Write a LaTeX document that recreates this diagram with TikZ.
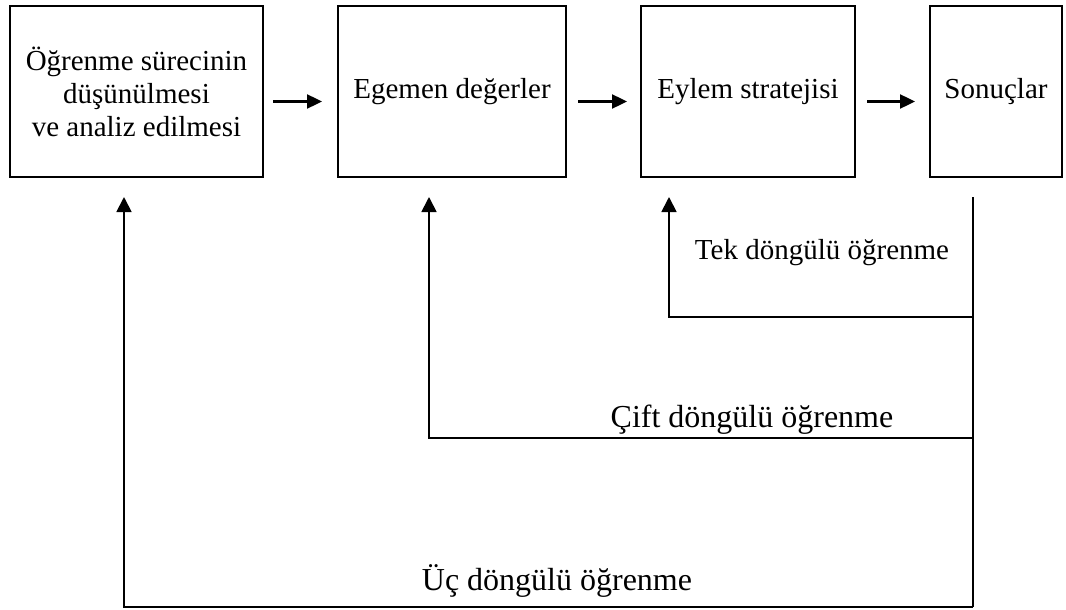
\documentclass[tikz,border=0pt]{standalone}
\usepackage{fontspec}
\setmainfont{Liberation Serif}
\usetikzlibrary{positioning,arrows.meta}

\begin{document}
\begin{tikzpicture}[
  x=1pt, y=-1pt,
  node distance=75pt,
  font=\fontsize{29}{33}\selectfont,
  box/.style={draw, line width=1.8pt, align=center, inner sep=0pt, outer sep=0pt, minimum height=171pt},
  arrow/.style={-{Triangle[length=15pt,width=14pt]}, line width=2.4pt},
  loopline/.style={line width=1.4pt},
  looparrow/.style={-{Triangle[length=15pt,width=15pt]}, line width=1.8pt},
  buyuk/.style={font=\fontsize{32}{36}\selectfont}
]
\useasboundingbox (0,0) rectangle (1066,610);

\node[box, minimum width=253pt, anchor=north west] (analiz) at (10,6) {Öğrenme sürecinin\\düşünülmesi\\ve analiz edilmesi};
\node[box, minimum width=228pt, right=of analiz] (degerler) {Egemen değerler};
\node[box, minimum width=214pt, right=of degerler] (strateji) {Eylem stratejisi};
\node[box, minimum width=132pt, right=of strateji] (sonuc) {Sonuçlar};

\draw[arrow] ([shift={(10,10)}]analiz.east) -- ([shift={(-16,10)}]degerler.west);
\draw[arrow] ([shift={(12,10)}]degerler.east) -- ([shift={(-14,10)}]strateji.west);
\draw[arrow] ([shift={(12,10)}]strateji.east) -- ([shift={(-15,10)}]sonuc.west);

% geri besleme donguleri
\coordinate (donus) at (973,197);
\coordinate (tekdon) at (973,317);
\coordinate (ciftdon) at (973,438);
\coordinate (donusalt) at (973,607);
\coordinate (tekuc) at (669,197);
\coordinate (ciftuc) at (429,197);
\coordinate (ucuc) at (124,197);

\draw[loopline] (donus) -- (donusalt);
\draw[looparrow] (tekdon) -| (tekuc);
\draw[looparrow] (ciftdon) -| (ciftuc);
\draw[looparrow] (donusalt) -| (ucuc);

\node[anchor=base] (tekyazi) at (822,259) {Tek döngülü öğrenme};
\node[buyuk, anchor=base] (ciftyazi) at (752,427) {Çift döngülü öğrenme};
\node[buyuk, anchor=base] (ucyazi) at (557,590) {Üç döngülü öğrenme};

\end{tikzpicture}
\end{document}
